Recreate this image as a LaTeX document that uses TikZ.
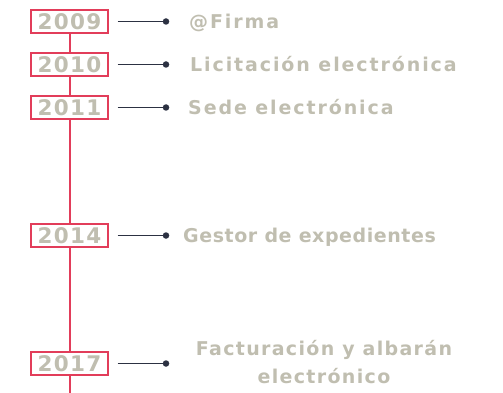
\documentclass[tikz,border=0pt]{standalone}
\usepackage{fontspec}
\setmainfont{DejaVu Sans}
\newfontfamily\lblfont{DejaVu Sans}[LetterSpace=10]
\newfontfamily\lblfontmid{DejaVu Sans}[LetterSpace=7]
\newfontfamily\lblfonttight{DejaVu Sans}[LetterSpace=3]
\newfontfamily\yrfont{DejaVu Sans}[LetterSpace=6]
\definecolor{tlred}{HTML}{E23D5A}
\definecolor{tlgray}{HTML}{C0BEB0}
\definecolor{tldark}{HTML}{2C3142}
\begin{document}
\begin{tikzpicture}[x=1pt,y=-1pt,
  yearbox/.style={draw=tlred, line width=1.2pt, fill=white, minimum width=77pt,
    minimum height=23pt, inner sep=0pt, text=tlgray,
    font=\yrfont\bfseries\fontsize{21.5}{21.5}\selectfont},
  timeline/.style={draw=tlred, line width=2pt},
  conn/.style={draw=tldark, line width=1.8pt},
  evdot/.style={circle, fill=tldark, inner sep=0pt, minimum size=6.5pt},
  evlabel/.style={text=tlgray, font=\lblfont\bfseries\fontsize{19}{28}\selectfont,
    inner sep=0pt, anchor=base west}]
\useasboundingbox (0,0) rectangle (503,393);
% year boxes
\node[yearbox] (y09) at (69.5,21.5) {2009};
\node[yearbox] (y10) at (69.5,64.5) {2010};
\node[yearbox] (y11) at (69.5,107.5) {2011};
\node[yearbox] (y14) at (69.5,235.5) {2014};
\node[yearbox] (y17) at (69.5,363.5) {2017};
\coordinate (tlend) at (69.5,393);
% timeline
\draw[timeline] (y09.south) -- (y10.north);
\draw[timeline] (y10.south) -- (y11.north);
\draw[timeline] (y11.south) -- (y14.north);
\draw[timeline] (y14.south) -- (y17.north);
\draw[timeline] (y17.south) -- (tlend);
% dots
\node[evdot] (d09) at (166,21.5) {};
\node[evdot] (d10) at (166,64.5) {};
\node[evdot] (d11) at (166,107.5) {};
\node[evdot] (d14) at (166,235.5) {};
\node[evdot] (d17) at (166,363.5) {};
% connectors
\draw[conn] ([xshift=9pt]y09.east) -- (d09.center);
\draw[conn] ([xshift=9pt]y10.east) -- (d10.center);
\draw[conn] ([xshift=9pt]y11.east) -- (d11.center);
\draw[conn] ([xshift=9pt]y14.east) -- (d14.center);
\draw[conn] ([xshift=9pt]y17.east) -- (d17.center);
% labels
\node[evlabel] (l09) at (189,29) {@Firma};
\node[evlabel] (l10) at (190,71.5) {Licitación electrónica};
\node[evlabel] (l11) at (188,114.5) {Sede electrónica};
\node[evlabel, font=\lblfonttight\bfseries\fontsize{19}{28}\selectfont] (l14) at (183,242) {Gestor de expedientes};
\node[evlabel, font=\lblfontmid\bfseries\fontsize{19}{28}\selectfont, anchor=base, align=center] (l17) at (324,383) {Facturación y albarán\\electrónico};
\end{tikzpicture}
\end{document}
